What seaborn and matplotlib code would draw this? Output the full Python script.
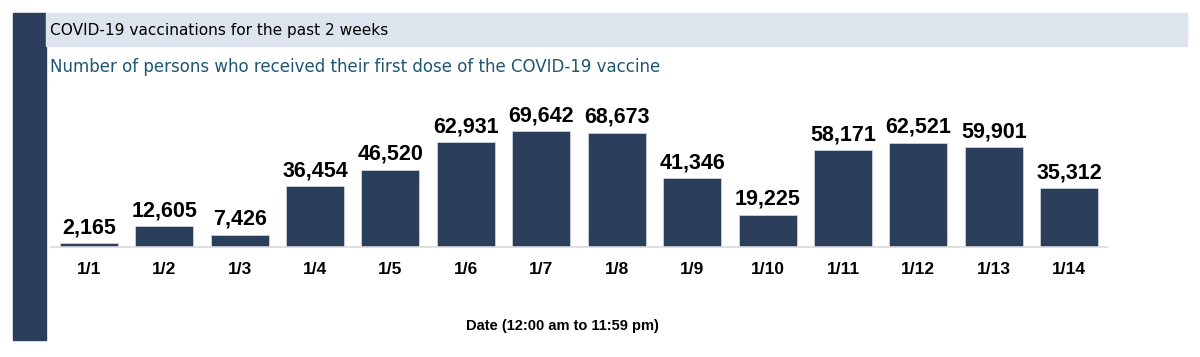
import matplotlib
matplotlib.use('Agg')
import matplotlib.pyplot as plt
from matplotlib.patches import Rectangle
import seaborn as sns
import pandas as pd

# daily first doses
dates = ['1/1', '1/2', '1/3', '1/4', '1/5', '1/6', '1/7', '1/8', '1/9', '1/10', '1/11', '1/12', '1/13', '1/14']
first_doses = [2165, 12605, 7426, 36454, 46520, 62931, 69642, 68673, 41346, 19225, 58171, 62521, 59901, 35312]

navy = '#2b3f5c'
band = '#dde4ee'

df = pd.DataFrame({'date': dates, 'doses': first_doses})

sns.set_style('white')
plt.rcParams['font.family'] = ['DejaVu Sans']

fig = plt.figure(figsize=(12, 3.57), dpi=100)
W, H = 1200, 357

# left navy strip and header band
fig.patches.append(Rectangle((13 / W, 1 - 340 / H), 33 / W, 327 / H,
                             transform=fig.transFigure, color=navy, zorder=0))
fig.patches.append(Rectangle((46 / W, 1 - 46 / H), 1141 / W, 33 / H,
                             transform=fig.transFigure, color=band, zorder=0))
fig.text(50 / W, 1 - 30 / H, 'COVID-19 vaccinations for the past 2 weeks',
         fontsize=11.1, color='black', va='center', ha='left')
fig.text(50 / W, 1 - 67 / H, 'Number of persons who received their first dose of the COVID-19 vaccine',
         fontsize=12, color='#1f5673', va='center', ha='left')

ax = fig.add_axes([51 / W, 1 - 247 / H, 1056 / W, 152 / H])
sns.barplot(data=df, x='date', y='doses', color=navy, width=0.77,
            saturation=1, ax=ax, edgecolor='#c9d2de', linewidth=0.6)

for i, v in enumerate(first_doses):
    ax.text(i, v + 6000, f'{v:,}', ha='center', va='baseline', color='black',
            fontsize=15.5, fontweight='bold', family='Liberation Sans')

ax.set_ylim(0, 91260)
ax.set_xlim(-0.5, len(dates) - 0.5)
ax.set_yticks([])
ax.set_ylabel('')
ax.set_xlabel('')
for s in ['top', 'right', 'left']:
    ax.spines[s].set_visible(False)
ax.spines['bottom'].set_color('#d9d9d9')
ax.spines['bottom'].set_linewidth(1.2)

ax.set_xticks(range(len(dates)))
ax.set_xticklabels(dates, fontsize=12.5, fontweight='bold', family='Liberation Sans', color='black')
ax.tick_params(axis='x', which='major', length=0, pad=11)
ax.set_xticks([i - 0.5 for i in range(len(dates) + 1)], minor=True)
ax.tick_params(axis='x', which='minor', length=6, color='#d9d9d9', width=1.2, direction='out')

fig.text(562 / W, 1 - 326 / H, 'Date (12:00 am to 11:59 pm)', ha='center', va='center', color='black',
         fontsize=10.5, fontweight='bold', family=['Liberation Sans Narrow', 'Liberation Sans'])

fig.savefig('out.png', dpi=100)
